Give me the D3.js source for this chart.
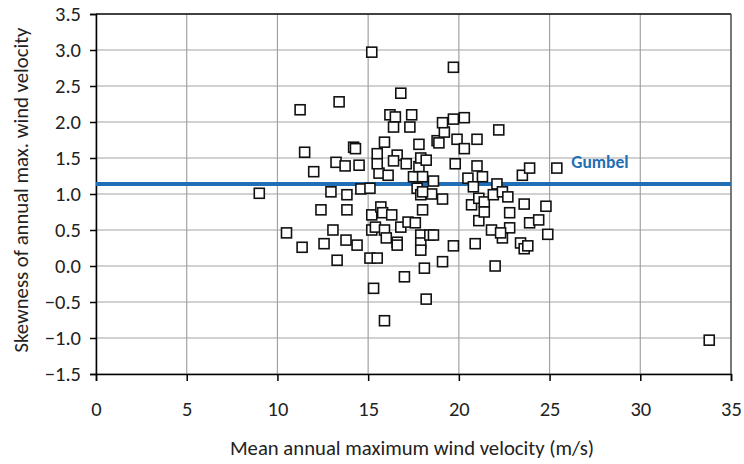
<!DOCTYPE html>
<html>
<head>
<meta charset="utf-8">
<script src="https://cdn.jsdelivr.net/npm/d3@7"></script>
<style>
  body { margin: 0; background: #fff; }
  text { font-family: Carlito, "Liberation Sans", sans-serif; fill: #222; }
</style>
</head>
<body>
<script>
// 平均風速（m/s）
var meanWind = [
  9.0, 10.5, 11.36, 11.25, 11.5, 12.0, 12.4, 12.57, 12.95, 13.06,
  13.29, 13.23, 13.4, 13.73, 13.83, 13.83, 13.78, 14.2, 14.3, 14.39,
  14.5, 14.6, 15.1, 15.2, 15.1, 15.5, 15.3, 15.2, 15.7, 15.8,
  16.3, 15.2, 15.4, 15.9, 16.8, 16.0, 16.6, 16.6, 15.9, 15.5,
  15.9, 15.6, 16.1, 15.5, 16.2, 16.5, 16.4, 16.6, 16.4, 17.1,
  16.8, 17.4, 17.3, 17.2, 17.0, 17.5, 17.8, 18.0, 17.8, 17.9,
  18.2, 17.7, 17.9, 17.6, 17.9, 17.9, 17.9, 18.6, 18.1, 18.2,
  18.0, 18.4, 18.5, 19.1, 18.0, 18.6, 19.1, 18.8, 18.9, 19.2,
  19.1, 19.7, 20.3, 19.7, 19.9, 20.3, 19.8, 19.7, 20.5, 20.8,
  21.3, 20.7, 21.1, 21.4, 21.9, 22.1, 21.0, 21.0, 20.9, 21.1,
  21.4, 21.8, 22.0, 22.2, 22.4, 22.7, 22.4, 22.8, 22.8, 22.3,
  23.4, 23.6, 23.8, 23.5, 23.9, 23.6, 23.9, 24.4, 24.8, 24.9,
  25.4, 33.8
];
// 年最大風速の歪度
var skewness = [
  1.01, 0.46, 0.26, 2.17, 1.58, 1.31, 0.78, 0.31, 1.03, 0.50,
  0.08, 1.44, 2.28, 1.39, 0.99, 0.78, 0.36, 1.65, 1.63, 0.29,
  1.40, 1.07, 1.08, 2.97, 0.11, 0.11, -0.31, 0.71, 0.82, 0.74,
  0.71, 0.50, 0.54, 0.50, 0.54, 0.39, 0.33, 0.29, -0.76, 1.56,
  1.72, 1.29, 1.26, 1.42, 2.10, 2.07, 1.93, 1.54, 1.46, 1.42,
  2.40, 2.10, 1.93, 0.61, -0.15, 1.24, 1.38, 1.24, 1.69, 1.50,
  1.47, 1.08, 0.99, 0.60, 0.43, 0.32, 0.22, 1.18, -0.03, -0.46,
  0.78, 0.43, 1.00, 0.93, 1.03, 0.43, 0.06, 1.74, 1.71, 1.86,
  1.99, 2.04, 2.06, 2.76, 1.76, 1.63, 1.42, 0.28, 1.22, 1.10,
  1.24, 0.85, 0.94, 0.89, 0.99, 1.14, 1.76, 1.39, 0.31, 0.63,
  0.75, 0.50, 0.00, 1.89, 1.03, 0.96, 0.39, 0.74, 0.53, 0.46,
  0.32, 0.24, 0.28, 1.26, 1.36, 0.86, 0.60, 0.64, 0.83, 0.44,
  1.36, -1.03
];
// グンベル分布の歪度
var gumbelSkew = 1.14;

var xTicks = [0, 5, 10, 15, 20, 25, 30, 35];
var yTicks = [-1.5, -1.0, -0.5, 0.0, 0.5, 1.0, 1.5, 2.0, 2.5, 3.0, 3.5];

var width = 744, height = 464;
var margin = { top: 14, right: 13, bottom: 90, left: 96 };
var innerW = width - margin.left - margin.right;
var innerH = height - margin.top - margin.bottom;

var svg = d3.select("body").append("svg")
  .attr("width", width)
  .attr("height", height);

var g = svg.append("g")
  .attr("transform", "translate(" + margin.left + "," + margin.top + ")");

var x = d3.scaleLinear().domain([0, 35]).range([0, innerW]);
var y = d3.scaleLinear().domain([-1.5, 3.5]).range([innerH, 0]);

// グリッド線
g.selectAll(".hgrid").data(yTicks).enter().append("line")
  .attr("x1", 0).attr("x2", innerW)
  .attr("y1", d => y(d)).attr("y2", d => y(d))
  .attr("stroke", "#a3a3a3").attr("stroke-width", 1.2);
g.selectAll(".vgrid").data(xTicks).enter().append("line")
  .attr("x1", d => x(d)).attr("x2", d => x(d))
  .attr("y1", 0).attr("y2", innerH)
  .attr("stroke", "#a3a3a3").attr("stroke-width", 1.2);

// 枠線（上・右）
g.append("line").attr("x1", 0).attr("x2", innerW).attr("y1", 0).attr("y2", 0)
  .attr("stroke", "#111").attr("stroke-width", 1.3);
g.append("line").attr("x1", innerW).attr("x2", innerW).attr("y1", 0).attr("y2", innerH)
  .attr("stroke", "#444").attr("stroke-width", 1.2);

// 軸
var xAxis = d3.axisBottom(x).tickValues(xTicks).tickSize(7).tickPadding(20)
  .tickFormat(d3.format("d"));
var yAxis = d3.axisLeft(y).tickValues(yTicks).tickSize(6).tickPadding(9)
  .tickFormat(d3.format(".1f"));

var gx = g.append("g").attr("transform", "translate(0," + innerH + ")").call(xAxis);
var gy = g.append("g").call(yAxis);
[gx, gy].forEach(function(a) {
  a.select(".domain").attr("stroke", "#000").attr("stroke-width", 1.5);
  a.selectAll(".tick line").attr("stroke", "#000").attr("stroke-width", 1.5);
  a.selectAll(".tick text").attr("font-size", 20.5).attr("font-family", "Carlito, 'Liberation Sans', sans-serif").attr("fill", "#222");
});

// グンベル線
g.append("line")
  .attr("x1", 0).attr("x2", innerW)
  .attr("y1", y(gumbelSkew)).attr("y2", y(gumbelSkew))
  .attr("stroke", "#1f6eb6").attr("stroke-width", 4);
g.append("text")
  .attr("x", x(26.2)).attr("y", y(gumbelSkew) - 16)
  .attr("font-size", 17.5).attr("font-weight", "bold")
  .style("fill", "#1f6eb6")
  .text("Gumbel");

// 散布点
var pts = meanWind.map((v, i) => ({ x: v, y: skewness[i] }));
var s = 10;
g.selectAll(".pt").data(pts).enter().append("rect")
  .attr("x", d => x(d.x) - s / 2)
  .attr("y", d => y(d.y) - s / 2)
  .attr("width", s).attr("height", s)
  .attr("fill", "#fff")
  .attr("stroke", "#111").attr("stroke-width", 1.6);

// 軸タイトル
svg.append("text")
  .attr("x", 412).attr("y", 455)
  .attr("text-anchor", "middle")
  .attr("font-size", 20.7)
  .text("Mean annual maximum  wind velocity (m/s)");
svg.append("text")
  .attr("transform", "translate(28,190) rotate(-90)")
  .attr("text-anchor", "middle")
  .attr("font-size", 20.7)
  .text("Skewness of annual max.  wind velocity");
</script>
</body>
</html>
